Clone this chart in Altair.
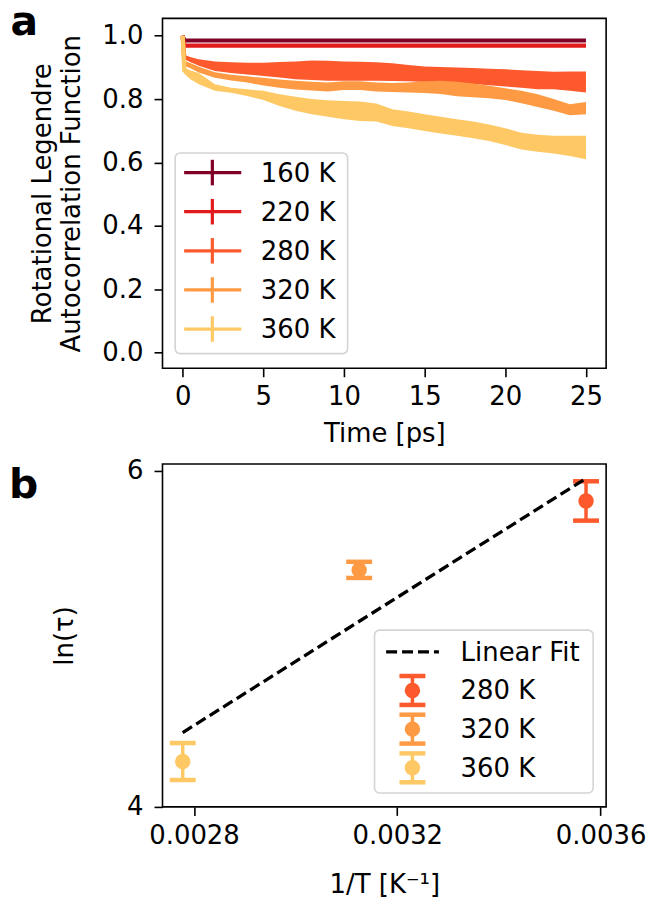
import altair as alt
import pandas as pd

FONT = "DejaVu Sans"
FS = 26

# ---------------- panel a: rotational Legendre autocorrelation ----------------
labels_a = ["160 K", "220 K", "280 K", "320 K", "360 K"]
colors_a = ["#800026", "#e31a1c", "#fc5a2d", "#fd9a43", "#fec965"]

time_ps = [0, 0.1, 0.5, 1, 2, 3, 4, 5, 6, 7, 8, 9, 10, 11, 12, 13, 14,
           15, 16, 17, 18, 19, 20, 21, 22, 23, 24, 25]

# lower / upper edge of the error band for every temperature
acf_lo = {
    "160 K": [1.0] + [0.983] * 27,
    "220 K": [1.0] + [0.966] * 27,
    "280 K": [1.0, 0.928, 0.916, 0.905, 0.889, 0.882, 0.878, 0.873, 0.868, 0.863,
              0.860, 0.858, 0.858, 0.858, 0.858, 0.857, 0.856, 0.854, 0.853, 0.852,
              0.848, 0.844, 0.840, 0.836, 0.831, 0.831, 0.826, 0.821],
    "320 K": [1.0, 0.905, 0.897, 0.884, 0.867, 0.859, 0.852, 0.843, 0.836, 0.830,
              0.827, 0.824, 0.829, 0.829, 0.824, 0.822, 0.821, 0.819, 0.816, 0.809,
              0.806, 0.803, 0.797, 0.787, 0.775, 0.763, 0.749, 0.752],
    "360 K": [1.0, 0.880, 0.862, 0.847, 0.826, 0.820, 0.810, 0.797, 0.778, 0.763,
              0.752, 0.744, 0.736, 0.731, 0.729, 0.715, 0.708, 0.699, 0.691, 0.684,
              0.676, 0.668, 0.655, 0.641, 0.634, 0.628, 0.620, 0.610],
}
acf_hi = {
    "160 K": [1.0] + [0.987] * 27,
    "220 K": [1.0] + [0.972] * 27,
    "280 K": [1.0, 0.939, 0.932, 0.926, 0.919, 0.916, 0.915, 0.915, 0.917, 0.919,
              0.922, 0.921, 0.919, 0.918, 0.916, 0.913, 0.908, 0.903, 0.901, 0.900,
              0.898, 0.896, 0.894, 0.891, 0.889, 0.886, 0.887, 0.887],
    "320 K": [1.0, 0.920, 0.913, 0.902, 0.885, 0.877, 0.872, 0.867, 0.862, 0.858,
              0.855, 0.852, 0.856, 0.856, 0.852, 0.851, 0.852, 0.856, 0.858, 0.855,
              0.849, 0.842, 0.834, 0.826, 0.815, 0.800, 0.784, 0.791],
    "360 K": [1.0, 0.900, 0.890, 0.882, 0.847, 0.836, 0.831, 0.826, 0.815, 0.807,
              0.800, 0.796, 0.794, 0.792, 0.786, 0.768, 0.761, 0.752, 0.744, 0.736,
              0.729, 0.720, 0.708, 0.694, 0.687, 0.684, 0.684, 0.684],
}

# ---------------- panel b: Arrhenius plot of ln(tau) ----------------
temps_b = [280, 320, 360]
labels_b = ["280 K", "320 K", "360 K"]
colors_b = ["#fc5a2d", "#fd9a43", "#fec965"]
ln_tau = [5.82, 5.41, 4.27]
ln_tau_err = [0.117, 0.048, 0.11]

rows = []
for lab in labels_a:
    for t, lo, hi in zip(time_ps, acf_lo[lab], acf_hi[lab]):
        rows.append({"T": lab, "t": t, "lo": lo, "hi": hi})
acf = pd.DataFrame(rows)

arr = pd.DataFrame({"T": temps_b, "label": labels_b, "ln_tau": ln_tau, "err": ln_tau_err})

one = alt.Data(values=[{}])

# ---------- panel a ----------
ax_a_x = alt.Axis(values=[0, 5, 10, 15, 20, 25], title="Time [ps]",
                  labelPadding=7, titlePadding=11)
ax_a_y = alt.Axis(values=[0, 0.2, 0.4, 0.6, 0.8, 1.0], format=".1f",
                  title=["Rotational Legendre", "Autocorrelation Function"],
                  titlePadding=17, titleLineHeight=29.5, labelPadding=11)
sx_a = alt.Scale(domain=[-1.25, 26.25], nice=False, zero=False)
sy_a = alt.Scale(domain=[-0.05, 1.055], nice=False, zero=False)

layers_a = []
for lab, col in zip(labels_a, colors_a):
    base = alt.Chart(acf).transform_filter(alt.datum.T == lab)
    layers_a.append(
        base.mark_area(color=col, opacity=1).encode(
            x=alt.X("t:Q", scale=sx_a, axis=ax_a_x),
            y=alt.Y("lo:Q", scale=sy_a, axis=ax_a_y),
            y2="hi:Q",
        )
    )
    layers_a.append(
        base.transform_calculate(mid="(datum.lo + datum.hi) / 2")
        .mark_line(color=col, strokeWidth=4.2, strokeJoin="round")
        .encode(
            x=alt.X("t:Q", scale=sx_a, axis=ax_a_x),
            y=alt.Y("mid:Q", scale=sy_a, axis=ax_a_y),
        )
    )

# legend of panel a
layers_a.append(
    alt.Chart(one).mark_rect(fill="white", stroke="#d4d4d4", strokeWidth=1.6,
                             cornerRadius=5).encode(
        x=alt.value(12.7), x2=alt.value(185.7), y=alt.value(135), y2=alt.value(336.3))
)
for i, (lab, col) in enumerate(zip(labels_a, colors_a)):
    ry = 154.7 + i * 39.25
    layers_a.append(alt.Chart(one).mark_rule(color=col, strokeWidth=3.2).encode(
        x=alt.value(21.7), x2=alt.value(79), y=alt.value(ry)))
    layers_a.append(alt.Chart(one).mark_rule(color=col, strokeWidth=3.2).encode(
        x=alt.value(50), y=alt.value(ry - 12.8), y2=alt.value(ry + 12.8)))
    layers_a.append(alt.Chart(one).mark_text(font=FONT, fontSize=FS, align="left",
                                             baseline="middle", color="black").encode(
        x=alt.value(98.5), y=alt.value(ry + 1), text=alt.value(lab)))

layers_a.append(alt.Chart(one).mark_text(font=FONT, fontSize=41, fontWeight="bold",
                                         align="left", baseline="alphabetic",
                                         color="black").encode(
    x=alt.value(-152.5), y=alt.value(17), text=alt.value("a")))

panel_a = alt.layer(*layers_a).properties(width=445, height=351)

# ---------- panel b ----------
ax_b_x = alt.Axis(values=[0.0028, 0.0032, 0.0036], format=".4f", title="1/T [K⁻¹]",
                  labelPadding=7, titlePadding=23)
ax_b_y = alt.Axis(values=[4, 5, 6], format="d", title="ln(τ)",
                  titlePadding=49, labelPadding=11)
sx_b = alt.Scale(domain=[0.002738, 0.003611], nice=False, zero=False)
sy_b = alt.Scale(domain=[4.0, 6.04], nice=False, zero=False)

base_b = alt.Chart(arr).transform_calculate(
    inv_T="1 / datum.T",
    lo="datum.ln_tau - datum.err",
    hi="datum.ln_tau + datum.err",
)
X_b = alt.X("inv_T:Q", scale=sx_b, axis=ax_b_x)
col_b = alt.Color("label:N", scale=alt.Scale(domain=labels_b, range=colors_b), legend=None)

fit = base_b.transform_regression("inv_T", "ln_tau", method="linear").mark_line(
    color="black", strokeWidth=3.3, strokeDash=[11, 5]).encode(
    x=X_b, y=alt.Y("ln_tau:Q", scale=sy_b, axis=ax_b_y))
dots = base_b.mark_point(filled=True, shape="circle", size=240, opacity=1).encode(
    x=X_b, y=alt.Y("ln_tau:Q", scale=sy_b, axis=ax_b_y), color=col_b)
bars = base_b.mark_rule(strokeWidth=3.5).encode(
    x=X_b, y=alt.Y("lo:Q", scale=sy_b, axis=ax_b_y), y2="hi:Q", color=col_b)
cap_path = "M-1,0H1"
cap_lo = base_b.mark_point(shape=cap_path, size=676, strokeWidth=4.5, opacity=1,
                           strokeCap="butt").encode(
    x=X_b, y=alt.Y("lo:Q", scale=sy_b, axis=ax_b_y), color=col_b)
cap_hi = base_b.mark_point(shape=cap_path, size=676, strokeWidth=4.5, opacity=1,
                           strokeCap="butt").encode(
    x=X_b, y=alt.Y("hi:Q", scale=sy_b, axis=ax_b_y), color=col_b)

layers_b = [dots, bars, cap_lo, cap_hi, fit]

# legend of panel b
layers_b.append(
    alt.Chart(one).mark_rect(fill="white", stroke="#d4d4d4", strokeWidth=1.6,
                             cornerRadius=5).encode(
        x=alt.value(212.7), x2=alt.value(432), y=alt.value(166.7), y2=alt.value(330))
)
leg_y0 = 188.4
layers_b.append(alt.Chart(one).mark_rule(color="black", strokeWidth=3.3,
                                         strokeDash=[11, 5]).encode(
    x=alt.value(224.3), x2=alt.value(277.3), y=alt.value(leg_y0)))
layers_b.append(alt.Chart(one).mark_text(font=FONT, fontSize=FS, align="left",
                                         baseline="middle", color="black").encode(
    x=alt.value(299), y=alt.value(leg_y0 + 1), text=alt.value("Linear Fit")))
for i, (lab, col) in enumerate(zip(labels_b, colors_b)):
    ry = leg_y0 + (i + 1) * 38.8
    layers_b.append(alt.Chart(one).mark_point(filled=True, shape="circle", size=240,
                                              opacity=1, color=col).encode(
        x=alt.value(250.7), y=alt.value(ry)))
    layers_b.append(alt.Chart(one).mark_rule(color=col, strokeWidth=3.5).encode(
        x=alt.value(250.7), y=alt.value(ry - 14.5), y2=alt.value(ry + 14.5)))
    for dy in (-14.5, 14.5):
        layers_b.append(alt.Chart(one).mark_rule(color=col, strokeWidth=4.5).encode(
            x=alt.value(237.7), x2=alt.value(263.7), y=alt.value(ry + dy)))
    layers_b.append(alt.Chart(one).mark_text(font=FONT, fontSize=FS, align="left",
                                             baseline="middle", color="black").encode(
        x=alt.value(299), y=alt.value(ry + 1), text=alt.value(lab)))

layers_b.append(alt.Chart(one).mark_text(font=FONT, fontSize=41, fontWeight="bold",
                                         align="left", baseline="alphabetic",
                                         color="black").encode(
    x=alt.value(-154), y=alt.value(34), text=alt.value("b")))

panel_b = alt.layer(*layers_b).properties(width=445, height=344)

chart = (
    alt.vconcat(panel_a, panel_b, spacing=96, bounds="flush")
    .properties(padding={"left": 8, "top": 0, "right": 2, "bottom": 6}, background="white")
    .configure_view(stroke="black", strokeWidth=1.6)
    .configure_axis(
        labelFont=FONT, titleFont=FONT, labelFontSize=FS, titleFontSize=FS,
        labelColor="black", titleColor="black", tickColor="black",
        tickWidth=1.6, tickSize=8.5, domain=False, grid=False,
        titleFontWeight="normal", labelFlush=False, labelOverlap=False,
    )
)

chart.save("out.html", embed_options={"renderer": "svg", "actions": False})
